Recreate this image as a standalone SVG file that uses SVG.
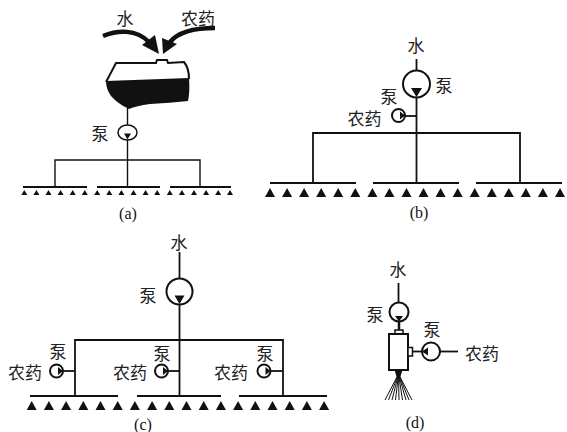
<svg xmlns="http://www.w3.org/2000/svg" width="567" height="432" viewBox="0 0 567 432">
  <style>
    .bg { fill: #ffffff; }
    .cn { font-family: "Noto Sans CJK SC", "Noto Sans", sans-serif; font-size: 17px; fill: #222; text-anchor: middle; dominant-baseline: central; }
    .cap { font-family: "Liberation Serif", serif; font-size: 16px; fill: #111; text-anchor: middle; dominant-baseline: central; }
    .pipe { stroke: #111; fill: none; }
    .thin { stroke-width: 1.4; }
    .med { stroke-width: 1.8; }
    .bar { stroke: #111; stroke-width: 2; fill: none; }
    .pump { fill: #fff; stroke: #111; stroke-width: 2; }
    .solid { fill: #111; stroke: none; }
  </style>
  <defs>
    <path id="nozS" d="M-3,5 L3,5 L0,0 Z" fill="#111"/>
    <path id="nozL" d="M-5,9 L5,9 L0,0 Z" fill="#111"/>
  </defs>
  <rect class="bg" x="0" y="0" width="567" height="432"/>

  <!-- (a) tank mixing system -->
  <g id="a-labels">
    <text class="cn" x="125" y="17" font-size="18">水</text>
    <text class="cn" x="198" y="17" font-size="18">农药</text>
  </g>
  <g id="a-inlets">
    <path class="pipe" stroke-width="4.5" d="M103,36 C118,30 136,29 149,42"/>
    <polygon class="solid" points="159,54 142,45 155,35"/>
    <path class="pipe" stroke-width="4.5" d="M215,28 C196,28 179,31 170,42"/>
    <polygon class="solid" points="163,54 162,38 177,44"/>
  </g>
  <g id="a-tank">
    <path fill="#fff" stroke="#111" stroke-width="2" d="M106,82 L116,63 L156,63 L157,60 L167,60 L168,63 L184,62 Q189,68 189,79"/>
    <path class="solid" d="M106,81 L189,78 Q190,92 188,101 Q170,103 150,104 Q136,106 129,109 Q118,104 111,96 Q106,89 106,81 Z"/>
  </g>
  <g id="a-pump">
    <text class="cn" x="100" y="132">泵</text>
    <ellipse fill="#fff" stroke="#111" stroke-width="1.5" cx="127.5" cy="132.5" rx="9.5" ry="7.5"/>
    <polygon class="solid" points="124,133.5 131,133.5 127.5,139.5"/>
  </g>
  <g id="a-pipes">
    <line class="pipe thin" x1="127.5" y1="108" x2="127.5" y2="125"/>
    <line class="pipe thin" x1="127.5" y1="140" x2="127.5" y2="187"/>
    <polyline class="pipe thin" points="55,187 55,160 200,160 200,187"/>
  </g>
  <g id="a-nozzles">
    <line class="bar" stroke-width="1.5" x1="23" y1="187" x2="87" y2="187"/>
    <line class="bar" stroke-width="1.5" x1="97" y1="187" x2="160" y2="187"/>
    <line class="bar" stroke-width="1.5" x1="170" y1="187" x2="231" y2="187"/>
    <use href="#nozS" x="24.3" y="190"/><use href="#nozS" x="36.4" y="190"/><use href="#nozS" x="48.5" y="190"/>
    <use href="#nozS" x="60.6" y="190"/><use href="#nozS" x="72.7" y="190"/><use href="#nozS" x="84.8" y="190"/>
    <use href="#nozS" x="97.2" y="190"/><use href="#nozS" x="109.3" y="190"/><use href="#nozS" x="121.4" y="190"/>
    <use href="#nozS" x="133.5" y="190"/><use href="#nozS" x="145.6" y="190"/><use href="#nozS" x="157.2" y="190"/>
    <use href="#nozS" x="169.8" y="190"/><use href="#nozS" x="181.9" y="190"/><use href="#nozS" x="194" y="190"/>
    <use href="#nozS" x="206.1" y="190"/><use href="#nozS" x="218.2" y="190"/><use href="#nozS" x="230" y="190"/>
  </g>
  <text class="cap" x="128" y="213">(a)</text>

  <!-- (b) single injection pump after main pump -->
  <g id="b-water">
    <text class="cn" x="416" y="44">水</text>
    <line class="pipe med" x1="416.5" y1="59" x2="416.5" y2="70"/>
  </g>
  <g id="b-main-pump">
    <circle class="pump" cx="416.5" cy="84" r="13.5"/>
    <polygon class="solid" points="411,88 422,88 416.5,97"/>
    <text class="cn" x="444" y="84">泵</text>
  </g>
  <g id="b-chem-pump">
    <text class="cn" x="389" y="95">泵</text>
    <text class="cn" x="364.5" y="117">农药</text>
    <circle class="pump" cx="398.5" cy="115.5" r="6.5"/>
    <polygon class="solid" points="400,111.5 400,119.5 405,115.5"/>
  </g>
  <g id="b-pipes">
    <line class="pipe med" x1="405" y1="116" x2="416.5" y2="116"/>
    <line class="pipe med" x1="416.5" y1="97" x2="416.5" y2="183"/>
    <polyline class="pipe med" stroke-width="1.5" points="313,183 313,133 520,133 520,183"/>
  </g>
  <g id="b-nozzles">
    <line class="bar" x1="270" y1="183" x2="356" y2="183"/>
    <line class="bar" x1="373" y1="183" x2="459" y2="183"/>
    <line class="bar" x1="476" y1="183" x2="562" y2="183"/>
    <use href="#nozL" x="270" y="188"/><use href="#nozL" x="287.1" y="188"/><use href="#nozL" x="304.1" y="188"/>
    <use href="#nozL" x="321.2" y="188"/><use href="#nozL" x="338.2" y="188"/><use href="#nozL" x="355.3" y="188"/>
    <use href="#nozL" x="372.4" y="188"/><use href="#nozL" x="389.4" y="188"/><use href="#nozL" x="406.5" y="188"/>
    <use href="#nozL" x="423.5" y="188"/><use href="#nozL" x="440.6" y="188"/><use href="#nozL" x="457.7" y="188"/>
    <use href="#nozL" x="474.7" y="188"/><use href="#nozL" x="491.8" y="188"/><use href="#nozL" x="508.8" y="188"/>
    <use href="#nozL" x="525.9" y="188"/><use href="#nozL" x="542.9" y="188"/><use href="#nozL" x="560" y="188"/>
  </g>
  <text class="cap" x="419" y="212">(b)</text>

  <!-- (c) injection pump on each branch -->
  <g id="c-water">
    <text class="cn" x="179" y="241">水</text>
    <line class="pipe med" x1="179.5" y1="252" x2="179.5" y2="278.5"/>
  </g>
  <g id="c-main-pump">
    <text class="cn" x="148" y="294">泵</text>
    <circle class="pump" cx="179.5" cy="291.5" r="13"/>
    <polygon class="solid" points="174.5,295.5 184.5,295.5 179.5,304"/>
  </g>
  <g id="c-chem-pump-1">
    <text class="cn" x="58" y="350">泵</text>
    <text class="cn" x="25" y="371">农药</text>
    <circle class="pump" cx="56.5" cy="371" r="6.5"/>
    <polygon class="solid" points="58,367 58,375 63,371"/>
  </g>
  <g id="c-chem-pump-2">
    <text class="cn" x="162" y="352">泵</text>
    <text class="cn" x="130" y="371">农药</text>
    <circle class="pump" cx="161.5" cy="371" r="6.5"/>
    <polygon class="solid" points="163,367 163,375 168,371"/>
  </g>
  <g id="c-chem-pump-3">
    <text class="cn" x="265" y="352">泵</text>
    <text class="cn" x="231" y="371">农药</text>
    <circle class="pump" cx="264" cy="371" r="6.5"/>
    <polygon class="solid" points="265.5,367 265.5,375 270.5,371"/>
  </g>
  <g id="c-pipes">
    <line class="pipe med" x1="179.5" y1="304" x2="179.5" y2="396"/>
    <polyline class="pipe med" points="75,396 75,340 283,340 283,396"/>
    <line class="pipe med" x1="63" y1="371" x2="75" y2="371"/>
    <line class="pipe med" x1="168" y1="371" x2="179.5" y2="371"/>
    <line class="pipe med" x1="270.5" y1="371" x2="283" y2="371"/>
  </g>
  <g id="c-nozzles">
    <line class="bar" x1="30" y1="396" x2="118" y2="396"/>
    <line class="bar" x1="137" y1="396" x2="221" y2="396"/>
    <line class="bar" x1="239" y1="396" x2="327" y2="396"/>
    <use href="#nozL" x="31.7" y="401"/><use href="#nozL" x="48.9" y="401"/><use href="#nozL" x="66.1" y="401"/>
    <use href="#nozL" x="83.3" y="401"/><use href="#nozL" x="100.5" y="401"/><use href="#nozL" x="117.7" y="401"/>
    <use href="#nozL" x="134.9" y="401"/><use href="#nozL" x="152.1" y="401"/><use href="#nozL" x="169.3" y="401"/>
    <use href="#nozL" x="186.5" y="401"/><use href="#nozL" x="203.7" y="401"/><use href="#nozL" x="220.9" y="401"/>
    <use href="#nozL" x="238.1" y="401"/><use href="#nozL" x="255.3" y="401"/><use href="#nozL" x="272.5" y="401"/>
    <use href="#nozL" x="289.7" y="401"/><use href="#nozL" x="306.9" y="401"/><use href="#nozL" x="324.1" y="401"/>
  </g>
  <text class="cap" x="143" y="424">(c)</text>

  <!-- (d) injection at the nozzle body -->
  <g id="d-water">
    <text class="cn" x="398" y="268">水</text>
    <line class="pipe med" x1="398.5" y1="283" x2="398.5" y2="302.5"/>
  </g>
  <g id="d-main-pump">
    <text class="cn" x="375" y="313">泵</text>
    <circle class="pump" cx="399" cy="312" r="9.5"/>
    <polygon class="solid" points="395,316 403,316 399,321.5"/>
  </g>
  <g id="d-nozzle-body">
    <line class="pipe" stroke-width="2.5" x1="399" y1="321.5" x2="399" y2="330"/>
    <rect fill="#fff" stroke="#111" stroke-width="1.5" x="395" y="330" width="8" height="4"/>
    <rect fill="#fff" stroke="#111" stroke-width="2" x="389" y="334" width="19" height="36"/>
    <rect fill="#fff" stroke="#111" stroke-width="1.5" x="408" y="347.5" width="4.5" height="8.5"/>
    <polygon class="solid" points="394.5,370 402.5,370 400,378 397,378"/>
    <g class="pipe" stroke-width="1">
      <line x1="398.5" y1="374" x2="385" y2="400"/>
      <line x1="398.5" y1="374" x2="388.5" y2="400"/>
      <line x1="398.5" y1="374" x2="392" y2="400"/>
      <line x1="398.5" y1="374" x2="395.5" y2="400"/>
      <line x1="398.5" y1="374" x2="399" y2="400"/>
      <line x1="398.5" y1="374" x2="402.5" y2="400"/>
      <line x1="398.5" y1="374" x2="406" y2="400"/>
      <line x1="398.5" y1="374" x2="409" y2="400"/>
      <line x1="398.5" y1="374" x2="412" y2="400"/>
    </g>
  </g>
  <g id="d-chem-pump">
    <text class="cn" x="432" y="328">泵</text>
    <circle class="pump" cx="431" cy="351.5" r="9"/>
    <polygon class="solid" points="422,351.5 428,347.5 428,355.5"/>
    <text class="cn" x="482" y="352">农药</text>
  </g>
  <g id="d-pipes">
    <line class="pipe med" x1="412.5" y1="351.5" x2="422" y2="351.5"/>
    <line class="pipe med" x1="440" y1="351.5" x2="458" y2="351.5"/>
  </g>
  <text class="cap" x="415" y="422">(d)</text>
</svg>
